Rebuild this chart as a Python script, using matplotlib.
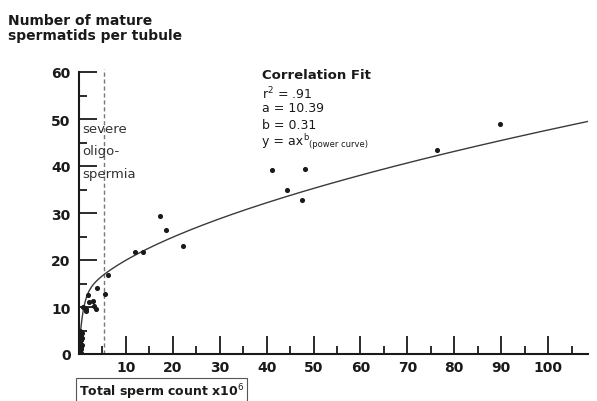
import numpy as np
import matplotlib.pyplot as plt

# scatter points (sperm count x10^6, spermatids per tubule)
count = [17.2, 18.6, 22.2, 11.9, 13.6, 6.1, 5.5, 3.8, 1.9, 0.8, 1.5, 2.1, 2.9,
         3.6, 1.4, 3.2, 41.1, 48.1, 44.3, 47.5, 76.3, 89.8,
         0.3, 0.4, 0.5, 0.6, 0.3, 0.5, 0.7, 0.4, 0.6, 0.3, 0.5]
spermatids = [29.4, 26.4, 23.0, 21.7, 21.7, 16.8, 12.8, 14.0, 12.6, 10.0, 9.6,
              11.0, 11.3, 9.6, 9.1, 10.2, 39.1, 39.4, 34.9, 32.8, 43.4, 48.9,
              0.5, 1.0, 1.5, 2.0, 2.5, 3.0, 3.5, 4.0, 4.5, 5.0, 0.2]

fit_a = 10.39
fit_b = 0.31
fit_r2 = .91
cutoff = 5.3      # severe oligospermia limit

# shape of the hand drawn fit curve (steep rise near 0, then power-like)
curve_c = 10.0
curve_tau = 0.8
curve_k = 2.63
curve_p = 0.578

xticks = [10, 20, 30, 40, 50, 60, 70, 80, 90, 100]
yticks = [0, 10, 20, 30, 40, 50, 60]

ink = '#1a1a1a'

fig = plt.figure(figsize=(5.97, 4.02), dpi=100)
ax = fig.add_axes([79/597, 1 - 355/402, (588 - 79)/597, (355 - 73)/402])

xs = np.linspace(0.02, 108.5, 500)
ys = curve_c * (1 - np.exp(-xs / curve_tau)) + curve_k * xs ** curve_p
ax.plot(xs, ys, color='#3a3a3a', lw=1.0, zorder=2)
ax.scatter(count, spermatids, s=7, color=ink, zorder=3)
ax.axvline(cutoff, ymin=0, ymax=1.01, color='#777777', lw=1.0,
           dashes=(3, 2), zorder=1, clip_on=False)

ax.set_xlim(0, 108.5)
ax.set_ylim(0, 60)
ax.spines['top'].set_visible(False)
ax.spines['right'].set_visible(False)
for s in ('left', 'bottom'):
    ax.spines[s].set_linewidth(1.5)
    ax.spines[s].set_color(ink)

ax.set_xticks(xticks)
ax.set_xticks(np.arange(5, 108, 10), minor=True)
ax.set_yticks(yticks)
ax.set_yticks(np.arange(5, 60, 10), minor=True)
ax.tick_params(which='major', direction='in', length=13, width=1.3, color=ink,
               labelsize=10, pad=4)
ax.tick_params(which='minor', direction='in', length=6, width=1.3, color=ink)
ax.tick_params(axis='y', which='major', pad=6)
for lab in ax.get_xticklabels() + ax.get_yticklabels():
    lab.set_fontweight('bold')
    lab.set_color(ink)

fig.text(8/597, 1 - 14/402, 'Number of mature\nspermatids per tubule',
         ha='left', va='top', fontsize=10, fontweight='bold', color=ink,
         linespacing=1.1)

fig.text(82/597, 1 - 123/402, 'severe\noligo-\nspermia',
         ha='left', va='top', fontsize=9.5, color='#333333', linespacing=1.95)

fig.text(262/597, 1 - 69/402, 'Correlation Fit', ha='left', va='top',
         fontsize=9.5, fontweight='bold', color=ink)
lines = [r'r$^2$ = ' + f'{fit_r2:.2f}'[1:],
         f'a = {fit_a:.2f}',
         f'b = {fit_b:.2f}']
for i, t in enumerate(lines):
    fig.text(262/597, 1 - (86 + 16.5*i)/402, t, ha='left', va='top',
             fontsize=9, color=ink)
fig.text(262/597, 1 - 135/402, 'y = ax', ha='left', va='top', fontsize=9, color=ink)
fig.text(303/597, 1 - 133/402, 'b', ha='left', va='top', fontsize=6, color=ink)
fig.text(309/597, 1 - 140/402, '(power curve)', ha='left', va='top', fontsize=6, color=ink)

fig.text(79/597, 1 - 392/402, 'Total sperm count x10$^6$', ha='left', va='center',
         fontsize=9, fontweight='bold', color=ink,
         bbox=dict(boxstyle='square,pad=0.25', fc='white', ec='#555555', lw=0.8))

fig.savefig('out.png', dpi=100, facecolor='white')
